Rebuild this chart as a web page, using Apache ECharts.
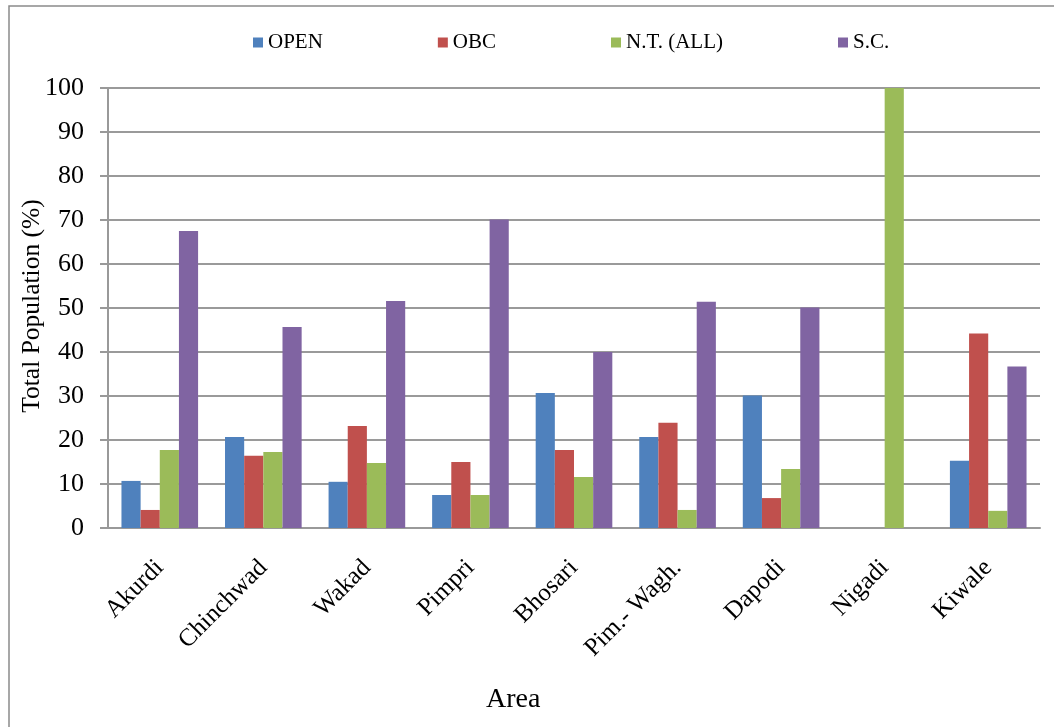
<!DOCTYPE html>
<html>
<head>
<meta charset="utf-8">
<script src="https://cdn.jsdelivr.net/npm/echarts@6/dist/echarts.min.js"></script>
<style>
html,body{margin:0;padding:0;background:#fff;}
#chart{width:1054px;height:727px;}
</style>
</head>
<body>
<div id="chart"></div>
<script>
const categories = ['Akurdi','Chinchwad','Wakad','Pimpri','Bhosari','Pim.- Wagh.','Dapodi','Nigadi','Kiwale'];
const seriesNames = ['OPEN','OBC','N.T. (ALL)','S.C.'];
const openVals = [10.7, 20.7, 10.5, 7.5, 30.7, 20.7, 30.1, 0, 15.3];
const obcVals  = [4.1, 16.4, 23.2, 15.0, 17.7, 23.9, 6.8, 0, 44.2];
const ntVals   = [17.7, 17.3, 14.8, 7.5, 11.6, 4.1, 13.4, 100, 3.9];
const scVals   = [67.5, 45.7, 51.6, 70.1, 40.0, 51.4, 50.1, 0, 36.7];
const colors = ['#4F81BD','#C0504D','#9BBB59','#8064A2'];
const yTicks = [0,10,20,30,40,50,60,70,80,90,100];

const font = '"Liberation Serif","Times New Roman",serif';
const chart = echarts.init(document.getElementById('chart'));
const allVals = [openVals, obcVals, ntVals, scVals];
chart.setOption({
  animation: false,
  backgroundColor: '#ffffff',
  color: colors,
  textStyle: {fontFamily: font},
  legend: {
    top: 27, left: 248,
    itemWidth: 10, itemHeight: 10, itemGap: 115,
    icon: 'rect',
    textStyle: {fontFamily: font, fontSize: 21, color: '#000'},
    data: seriesNames
  },
  grid: {left: 108, right: 14, top: 88, bottom: 199},
  xAxis: {
    type: 'category',
    data: categories,
    axisLine: {lineStyle: {color: '#999', width: 2}},
    axisTick: {show: false},
    axisLabel: {rotate: 45, margin: 36, padding: [12, 0, 0, 0], fontFamily: font, fontSize: 25, color: '#000', interval: 0}
  },
  yAxis: {
    type: 'value',
    min: 0, max: 100, interval: 10,
    axisLine: {show: true, lineStyle: {color: '#999', width: 2}},
    axisTick: {show: true, length: 8, lineStyle: {color: '#999', width: 2}},
    axisLabel: {margin: 24, fontFamily: font, fontSize: 26, color: '#000',
      formatter: v => yTicks.includes(v) ? String(v) : ''},
    splitLine: {lineStyle: {color: '#9a9a9a', width: 2}}
  },
  graphic: [
    {type: 'polyline', shape: {points: [[9, 727], [9, 6], [1054, 6]]},
     style: {stroke: '#8a8a8a', lineWidth: 1.5, fill: null}},
    {type: 'text', x: 32, y: 306, rotation: Math.PI / 2,
     style: {text: 'Total Population (%)', font: '25.5px ' + font, fill: '#000',
       textAlign: 'center', textVerticalAlign: 'middle'}},
    {type: 'text', left: 486, top: 686,
     style: {text: 'Area', font: '28px ' + font, fill: '#000'}}
  ],
  series: seriesNames.map((n, i) => ({
    name: n, type: 'bar', data: allVals[i],
    barGap: '0%', barCategoryGap: '26%',
    itemStyle: {color: colors[i]}
  }))
});
</script>
</body>
</html>
